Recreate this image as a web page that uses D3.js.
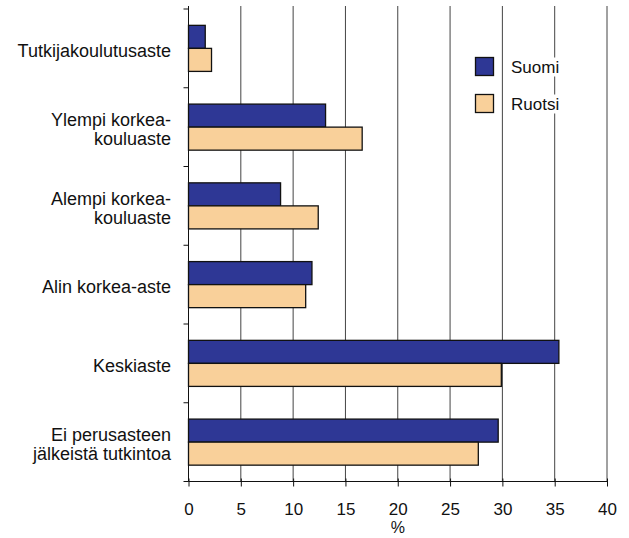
<!DOCTYPE html>
<html><head><meta charset="utf-8">
<script src="https://cdn.jsdelivr.net/npm/d3@7"></script>
<style>body{margin:0;background:#fff}svg{display:block}text{font-family:"Liberation Sans",Arial,sans-serif;fill:#111}</style>
</head><body><svg id="c" width="629" height="538"></svg>
<script>
const categories = [["Tutkijakoulutusaste"],["Ylempi korkea-","kouluaste"],["Alempi korkea-","kouluaste"],["Alin korkea-aste"],["Keskiaste"],["Ei perusasteen","jälkeistä tutkintoa"]];
const seriesNames = ["Suomi","Ruotsi"];
const suomi = [1.6, 13.1, 8.8, 11.8, 35.4, 29.6];
const ruotsi = [2.2, 16.6, 12.4, 11.2, 29.9, 27.7];
const xTicks = [0,5,10,15,20,25,30,35,40];
const colors = ["#2e3795","#f9d09a"];

const svg = d3.select("#c");
const L=188.5, R=607, T=9, B=481.5;
const x = d3.scaleLinear().domain([0,40]).range([L,R]);
const y = d3.scaleBand().domain(d3.range(categories.length)).range([T,B]).paddingInner(0).paddingOuter(0);
const sub = d3.scaleBand().domain([0,1]).range([0,y.bandwidth()]).paddingOuter(0.71).paddingInner(0);

// gridlines
svg.append("g").selectAll("line").data(xTicks.slice(1)).join("line")
  .attr("x1",d=>x(d)).attr("x2",d=>x(d)).attr("y1",T-3).attr("y2",B)
  .attr("stroke","#444").attr("stroke-width",1);

// bars
const data = [suomi, ruotsi];
data.forEach((vals,si)=>{
  svg.append("g").selectAll("rect").data(vals).join("rect")
    .attr("x",x(0)).attr("y",(d,i)=>y(i)+sub(si))
    .attr("width",d=>x(d)-x(0)).attr("height",sub.bandwidth())
    .attr("fill",colors[si]).attr("stroke","#111").attr("stroke-width",1.3);
});

// x axis
const xa = svg.append("g").attr("transform",`translate(0,${B})`)
  .call(d3.axisBottom(x).tickValues(xTicks).tickSize(5));
xa.select(".domain").attr("stroke","#111").attr("d",`M${L},0H${R}`);
xa.selectAll(".tick line").attr("stroke","#111").attr("y1",-3);
xa.selectAll(".tick text").attr("font-size",17).attr("font-family","Liberation Sans, Arial, sans-serif")
  .attr("fill","#111").attr("y",33.5).attr("dy",0);
svg.append("text").attr("x",x(20)).attr("y",533).attr("text-anchor","middle").attr("font-size",16).text("%");

// y axis
svg.append("line").attr("x1",L).attr("x2",L).attr("y1",T-3).attr("y2",B).attr("stroke","#111");
svg.append("g").selectAll("line").data(d3.range(categories.length+1)).join("line")
  .attr("x1",L-5).attr("x2",L).attr("y1",i=>i<categories.length?y(i):B).attr("y2",i=>i<categories.length?y(i):B)
  .attr("stroke","#111");

// category labels
svg.append("g").selectAll("text").data(categories).join("text")
  .attr("x",171).attr("y",(d,i)=>y(i)+y.bandwidth()/2+8.5)
  .attr("text-anchor","end").attr("font-size",18)
  .each(function(d){
    const t=d3.select(this); const n=d.length;
    d.forEach((line,k)=>t.append("tspan").attr("x",171).attr("dy",k===0?(-(n-1)/2)*19:19).text(line));
  });

// legend
const lg = svg.append("g");
seriesNames.forEach((s,i)=>{
  const yy = 57 + i*37;
  lg.append("rect").attr("x",475.5).attr("y",yy+0.5).attr("width",18).attr("height",18)
    .attr("fill",colors[i]).attr("stroke","#111").attr("stroke-width",1.3);
  const tx = lg.append("text").attr("x",511).attr("y",yy+15.5).attr("font-size",17).text(s);
  const bb = tx.node().getBBox();
  lg.insert("rect","text").attr("x",bb.x-1).attr("y",bb.y).attr("width",bb.width+2).attr("height",bb.height).attr("fill","#fff");
});
</script></body></html>
